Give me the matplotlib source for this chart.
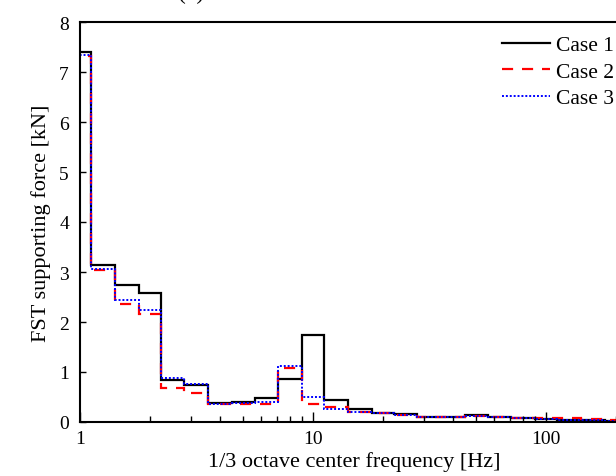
import numpy as np
import matplotlib
matplotlib.use("Agg")
import matplotlib.pyplot as plt
from matplotlib.ticker import LogLocator, FixedLocator, NullFormatter

plt.rcParams['font.family'] = ['Liberation Serif', 'DejaVu Serif']
plt.rcParams['mathtext.fontset'] = 'stix'

freqs = [1, 1.25, 1.6, 2, 2.5, 3.15, 4, 5, 6.3, 8, 10, 12.5, 16, 20, 25,
         31.5, 40, 50, 63, 80, 100, 125, 160, 200]
case1 = [7.40, 3.15, 2.75, 2.58, 0.85, 0.75, 0.39, 0.41, 0.49, 0.87, 1.74,
         0.45, 0.27, 0.19, 0.16, 0.11, 0.11, 0.15, 0.11, 0.08, 0.07, 0.05,
         0.04, 0.03]
case2 = [7.33, 3.04, 2.37, 2.17, 0.68, 0.58, 0.36, 0.37, 0.37, 1.09, 0.37,
         0.30, 0.21, 0.18, 0.15, 0.11, 0.11, 0.12, 0.11, 0.09, 0.08, 0.08,
         0.07, 0.04]
case3 = [7.34, 3.07, 2.44, 2.25, 0.89, 0.77, 0.37, 0.39, 0.41, 1.13, 0.51,
         0.27, 0.21, 0.18, 0.15, 0.11, 0.11, 0.13, 0.11, 0.08, 0.07, 0.05,
         0.05, 0.03]
labels = ["Case 1", "Case 2", "Case 3"]

f = np.array(freqs, dtype=float)
edges = np.concatenate([[f[0] / 2 ** (1 / 6)], np.sqrt(f[:-1] * f[1:]), [f[-1] * 2 ** (1 / 6)]])

W, H = 616, 477
fig = plt.figure(figsize=(W / 100, H / 100), dpi=100)
xmax = 224.0
decade = 233.0
ax = fig.add_axes([80 / W, 54 / H, decade * np.log10(xmax) / W, 400 / H])

ax.stairs(case1, edges, baseline=None, color='black', lw=1.6, label=labels[0])
ax.stairs(case2, edges, baseline=None, color='#ff0000', lw=1.6,
          linestyle=(0, (5, 4)), label=labels[1])
ax.stairs(case3, edges, baseline=None, color='#0000ff', lw=1.4,
          linestyle=(0, (1, 1)), label=labels[2])

ax.set_xscale('log')
ax.set_xlim(1, xmax)
ax.set_ylim(0, 8)
ax.set_yticks(range(0, 9))
ax.xaxis.set_major_locator(FixedLocator([1, 10, 100]))
ax.set_xticklabels(['1', '10', '100'])
ax.xaxis.set_minor_locator(LogLocator(base=10, subs=np.arange(2, 10)))
ax.xaxis.set_minor_formatter(NullFormatter())
ax.tick_params(axis='both', which='major', direction='in', length=7, width=1,
               labelsize=14, top=False, right=False)
ax.tick_params(axis='x', which='minor', direction='in', length=4, width=1, top=False)
ax.tick_params(axis='y', which='major', length=4, pad=8)
ax.tick_params(axis='x', which='major', pad=6)
for s in ax.spines.values():
    s.set_linewidth(1.5)

ax.set_xlabel('1/3 octave center frequency [Hz]', fontsize=16, labelpad=3)
ax.set_ylabel('FST supporting force [kN]', fontsize=16, labelpad=6)

leg = ax.legend(loc='upper left', bbox_to_anchor=(502 / W, 1 - 36 / H),
                bbox_transform=fig.transFigure,
                frameon=False, fontsize=15.5, handlelength=2.25, handletextpad=0.25,
                labelspacing=0.3, borderaxespad=0, borderpad=0)

fig.text(191 / W, 1.0 + 1 / H, '(a)', ha='center', va='baseline', fontsize=17)

fig.savefig('out.png', dpi=100)
